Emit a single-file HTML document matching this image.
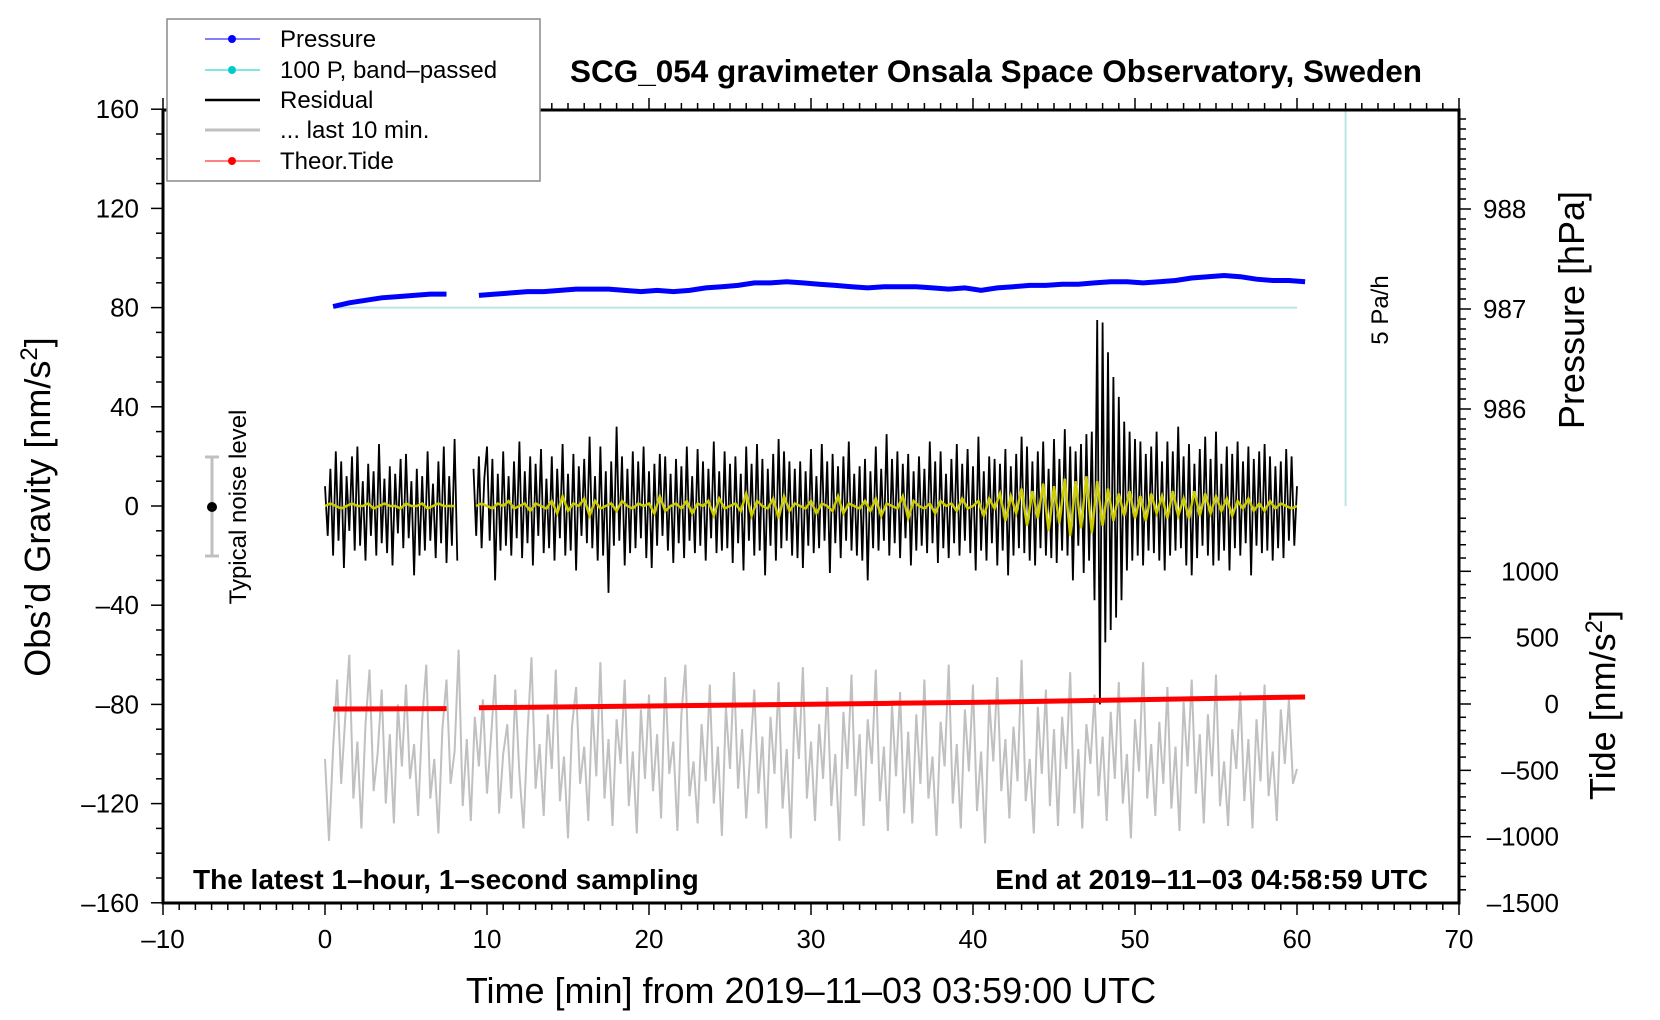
<!DOCTYPE html>
<html><head><meta charset="utf-8"><style>
body{margin:0;background:#fff;}
svg{display:block;font-family:"Liberation Sans",Arial,sans-serif;}
</style></head><body>
<svg id="chart" width="1660" height="1020" viewBox="0 0 1660 1020" xmlns="http://www.w3.org/2000/svg">
<rect x="0" y="0" width="1660" height="1020" fill="#fff"/>
<g id="ticks"></g>
<g id="marks"></g>
<rect x="163" y="110" width="1296" height="793" fill="none" stroke="#000" stroke-width="3"/>
<text x="996" y="82" text-anchor="middle" font-size="31.5" font-weight="bold">SCG_054 gravimeter Onsala Space Observatory, Sweden</text>
<text x="193" y="889" font-size="28" font-weight="bold">The latest 1–hour, 1–second sampling</text>
<text x="1428" y="889" text-anchor="end" font-size="28" font-weight="bold">End at 2019–11–03 04:58:59 UTC</text>
<text x="811" y="1003" text-anchor="middle" font-size="36">Time [min] from 2019–11–03 03:59:00 UTC</text>
<text transform="translate(50,507) rotate(-90)" text-anchor="middle" font-size="36">Obs’d Gravity [nm/s<tspan font-size="24" dy="-13">2</tspan><tspan dy="13">]</tspan></text>
<text transform="translate(1584,310) rotate(-90)" text-anchor="middle" font-size="36">Pressure [hPa]</text>
<text transform="translate(1615,705) rotate(-90)" text-anchor="middle" font-size="36">Tide [nm/s<tspan font-size="24" dy="-13">2</tspan><tspan dy="13">]</tspan></text>
<text transform="translate(1388,310) rotate(-90)" text-anchor="middle" font-size="24">5 Pa/h</text>
<g>
<line x1="212" y1="457" x2="212" y2="556" stroke="#c0c0c0" stroke-width="3"/>
<line x1="205" y1="457" x2="219" y2="457" stroke="#c0c0c0" stroke-width="3"/>
<line x1="205" y1="556" x2="219" y2="556" stroke="#c0c0c0" stroke-width="3"/>
<circle cx="212" cy="507" r="5" fill="#000"/>
<text transform="translate(246,507) rotate(-90)" text-anchor="middle" font-size="24">Typical noise level</text>
</g>
<g>
<rect x="167" y="19" width="373" height="162" fill="#fff" stroke="#888" stroke-width="1.5"/>
<g><line x1="205" y1="39" x2="260" y2="39" stroke="#0000ff" stroke-width="1"/><circle cx="232" cy="39" r="4" fill="#0000ff"/><text x="280" y="47" font-size="24">Pressure</text></g>
<g><line x1="205" y1="70" x2="260" y2="70" stroke="#00cccc" stroke-width="1"/><circle cx="232" cy="70" r="4" fill="#00cccc"/><text x="280" y="78" font-size="24">100 P, band–passed</text></g>
<g><line x1="205" y1="100" x2="260" y2="100" stroke="#000" stroke-width="2.5"/><text x="280" y="108" font-size="24">Residual</text></g>
<g><line x1="205" y1="130" x2="260" y2="130" stroke="#c0c0c0" stroke-width="3"/><text x="280" y="138" font-size="24">... last 10 min.</text></g>
<g><line x1="205" y1="161" x2="260" y2="161" stroke="#ff0000" stroke-width="1"/><circle cx="232" cy="161" r="4" fill="#ff0000"/><text x="280" y="169" font-size="24">Theor.Tide</text></g>
</g>
</svg>
<script>
const xTicks=[-10,0,10,20,30,40,50,60,70];
const yTicks=[160,120,80,40,0,-40,-80,-120,-160];
const pTicks=[988,987,986];
const tideTicks=[1000,500,0,-500,-1000,-1500];
const residual=[
8,-12,15,-20,22,-14, 18,-25,12,-10,20,-18, 24,-16,10,-22,17,-12, 14,-20,25,-15,11,-19,
16,-24,13,-11,19,-17, 21,-13,10,-28,15,-20, 12,-18,22,-14,9,-21, 18,-15,24,-23,12,-16,
27,-22,null,null,null,null, null,15,-12,20,-17,11,
24,-14,19,-30,13,-18, 22,-16,12,-20,18,-13, 26,-21,14,-15,20,-24, 17,-12,23,-19,11,-17,
20,-22,15,-13,25,-20, 13,-18,21,-26,16,-12, 19,-15,28,-17,12,-22, 24,-20,14,-35,18,-16,
32,-14,20,-24,15,-19, 22,-17,18,-13,24,-21, 14,-25,17,-16,21,-12, 20,-18,13,-23,19,-15,
16,-21,24,-14,12,-19, 23,-16,18,-22,15,-13, 26,-19,14,-18,22,-17, 17,-23,20,-15,13,-26,
24,-14,17,-20,25,-18, 19,-28,15,-16,21,-22, 27,-17,22,-14,18,-20, 15,-21,18,-25,14,-16,
23,-19,12,-17,25,-14, 18,-27,21,-15,16,-21, 20,-14,26,-18,13,-20, 16,-22,19,-30,14,-17,
24,-18,15,-14,29,-20, 19,-15,22,-21,17,-13, 21,-24,14,-18,20,-16, 15,-19,26,-15,18,-23,
22,-17,13,-21,19,-15, 25,-20,17,-14,23,-19, 16,-26,28,-18,14,-22, 20,-15,19,-24,17,-18,
23,-28,16,-20,21,-17, 28,-19,24,-22,18,-24, 22,-17,26,-20,15,-21, 27,-23,19,-18,31,-20,
24,-30,22,-16,25,-27, 29,-22,30,-38,75,-80, 74,-55,62,-50,52,-45, 44,-38,34,-26,30,-22,
27,-20,26,-24,21,-18, 24,-19,30,-22,18,-26, 26,-20,22,-18,32,-17, 20,-24,25,-28,17,-21,
23,-16,28,-20,19,-24, 30,-22,17,-18,24,-26, 21,-17,26,-20,18,-15, 24,-28,19,-16,22,-19,
25,-18,20,-22,16,-17, 18,-21,23,-14,20,-16, 8];
const filtered=[
0,1,0,-1,0,1,0,0,1,-1,0,1,0,0,-1,1,0,0,1,-1,0,1,0,0,
0,null,null,null,0,1,
0,-1,1,0,2,-1,0,1,-2,1,0,-1,2,-3,4,-2,1,0,3,-4,2,-1,0,1,-2,2,0,-1,1,0,
1,-3,4,-2,0,1,-1,2,-3,1,0,2,-4,3,-1,0,1,-2,5,-4,2,0,-1,3,-5,4,-2,1,0,-1,
2,-3,1,0,-2,4,-3,1,0,-1,2,-2,3,-4,1,0,-1,4,-5,2,0,-1,1,-3,2,0,1,-2,3,-1,
0,2,-4,3,-1,5,-6,4,-3,7,-8,6,-5,9,-10,8,-7,11,-12,10,-9,12,-11,10,-8,7,-6,5,-4,6,
-5,4,-6,5,-3,4,-5,6,-4,3,-5,6,-4,5,-3,4,-2,3,-4,2,-1,3,-2,1,-2,2,-1,1,0,-1,0];
const last10=[
-102,-135,-98,-70,-112,-85,-60,-118,-95,-130,-88,-66,
-115,-100,-74,-120,-92,-128,-80,-105,-72,-110,-96,-125,
-86,-64,-118,-102,-132,-90,-70,-112,-99,-58,-121,-94,
-127,-85,-105,-78,-116,-93,-68,-124,-100,-88,-118,-74,
-108,-130,-92,-61,-114,-96,-125,-84,-106,-66,-119,-101,
-134,-89,-73,-112,-97,-127,-80,-109,-63,-118,-94,-129,
-86,-104,-70,-121,-99,-132,-82,-110,-76,-115,-92,-126,
-69,-108,-95,-131,-84,-64,-117,-103,-128,-88,-111,-72,
-120,-97,-133,-81,-106,-67,-114,-90,-126,-99,-74,-116,
-93,-130,-85,-108,-71,-122,-98,-134,-79,-102,-65,-118,
-95,-127,-88,-110,-73,-121,-100,-135,-83,-106,-68,-117,
-92,-129,-86,-104,-66,-119,-97,-131,-80,-109,-75,-124,
-91,-128,-84,-112,-70,-118,-101,-133,-87,-105,-64,-120,
-96,-130,-82,-107,-72,-123,-99,-136,-78,-103,-69,-115,
-94,-126,-89,-111,-62,-119,-102,-132,-81,-108,-74,-121,
-90,-129,-85,-106,-67,-124,-98,-130,-88,-104,-76,-117,
-93,-127,-83,-110,-71,-120,-100,-134,-86,-107,-63,-118,
-96,-125,-87,-112,-73,-122,-97,-131,-79,-105,-70,-116,
-92,-128,-84,-109,-68,-121,-103,-129,-90,-106,-75,-119,
-94,-130,-86,-111,-72,-117,-99,-127,-82,-104,-78,-112,
-106];
const pressure=[987.025,987.062,987.087,987.112,987.124,987.136,987.149,987.149,null,
987.136,987.149,987.161,987.174,987.174,987.186,987.199,987.199,987.199,987.186,987.174,
987.186,987.174,987.186,987.211,987.223,987.236,987.261,987.261,987.273,987.261,
987.248,987.236,987.223,987.211,987.223,987.223,987.223,987.211,987.199,987.211,
987.186,987.211,987.223,987.236,987.236,987.248,987.248,987.261,987.273,987.273,
987.261,987.273,987.285,987.310,987.323,987.335,987.323,987.298,987.285,987.285,987.273];
const tideTimes=[0.5,7.5,8.5,9.5,15,20,25,30,35,40,45,50,55,60.5];
const tideVals=[-38,-35,null,-28,-22,-15,-8,-2,5,12,22,32,42,53];
const bandTimes=[0.5,60];
const bandVals=[0,0];

const xs=m=>163+(m+10)*16.2;
const ys=g=>506-g*2.48;
const ps=p=>309-(p-987)*100;
const ts=t=>704-t*0.1327;
const NS='http://www.w3.org/2000/svg';
const marks=document.getElementById('marks');
const ticksG=document.getElementById('ticks');
function mk(tag,attrs,parent){const e=document.createElementNS(NS,tag);for(const k in attrs)e.setAttribute(k,attrs[k]);parent.appendChild(e);return e;}
function pathFrom(times,vals,sy){let d='',pen=false;for(let i=0;i<vals.length;i++){if(vals[i]===null){pen=false;continue;}d+=(pen?'L':'M')+xs(times[i]).toFixed(1)+' '+sy(vals[i]).toFixed(1);pen=true;}return d;}

for(let m=-10;m<=70;m++){const maj=m%10===0;
 let t=mk('line',{x1:xs(m),x2:xs(m),y1:903,y2:903+(maj?12:7),stroke:'#000','stroke-width':1.5},ticksG);
 
 mk('line',{x1:xs(m),x2:xs(m),y1:110,y2:110-(maj?12:7),stroke:'#000','stroke-width':1.5},ticksG);}
xTicks.forEach(v=>{const t=mk('text',{x:xs(v),y:948,'text-anchor':'middle','font-size':26},ticksG);t.textContent=String(v).replace('-','–');
 });
for(let g=-160;g<=160;g+=10){const maj=g%40===0;mk('line',{x1:163,x2:163-(maj?12:7),y1:ys(g),y2:ys(g),stroke:'#000','stroke-width':1.5},ticksG);}
yTicks.forEach(v=>{const t=mk('text',{x:139,y:ys(v)+9,'text-anchor':'end','font-size':26},ticksG);t.textContent=String(v).replace('-','–');
 });
for(let p=985.0;p<=989.01;p+=0.1){const y=ps(p);if(y<110||y>506)continue;const maj=Math.abs(p-Math.round(p))<0.01;mk('line',{x1:1459,x2:1459+(maj?12:7),y1:y,y2:y,stroke:'#000','stroke-width':1.5},ticksG);}
pTicks.forEach(v=>{const t=mk('text',{x:1483,y:ps(v)+9,'font-size':26},ticksG);t.textContent=v;
 });
for(let tv=-1500;tv<=1500;tv+=100){const y=ts(tv);if(y<506||y>903)continue;const maj=tv%500===0;mk('line',{x1:1459,x2:1459+(maj?12:7),y1:y,y2:y,stroke:'#000','stroke-width':1.5},ticksG);}
tideTicks.forEach(v=>{const t=mk('text',{x:1559,y:ts(v)+9,'text-anchor':'end','font-size':26},ticksG);t.textContent=String(v).replace('-','–');
 });

const rT=residual.map((_,i)=>i/6), fT=filtered.map((_,i)=>i/3), gT=last10.map((_,i)=>i/4), pT=pressure.map((_,i)=>0.5+i);
let e;
e=mk('path',{d:pathFrom(gT,last10,ys),fill:'none',stroke:'#c0c0c0','stroke-width':2},marks);

e=mk('line',{x1:xs(63),x2:xs(63),y1:111,y2:ys(0),stroke:'#b8e6e6','stroke-width':2},marks);

e=mk('path',{d:pathFrom(bandTimes,bandVals,v=>ys(80+v)),fill:'none',stroke:'#b8e6e6','stroke-width':2},marks);

e=mk('path',{d:pathFrom(rT,residual,ys),fill:'none',stroke:'#000','stroke-width':1.8},marks);

e=mk('path',{d:pathFrom(fT,filtered,ys),fill:'none',stroke:'#cccc00','stroke-width':2.5},marks);

e=mk('path',{d:pathFrom(pT,pressure,ps),fill:'none',stroke:'#0000ff','stroke-width':5},marks);

e=mk('path',{d:pathFrom(tideTimes,tideVals,ts),fill:'none',stroke:'#ff0000','stroke-width':5},marks);

</script>
</body></html>
